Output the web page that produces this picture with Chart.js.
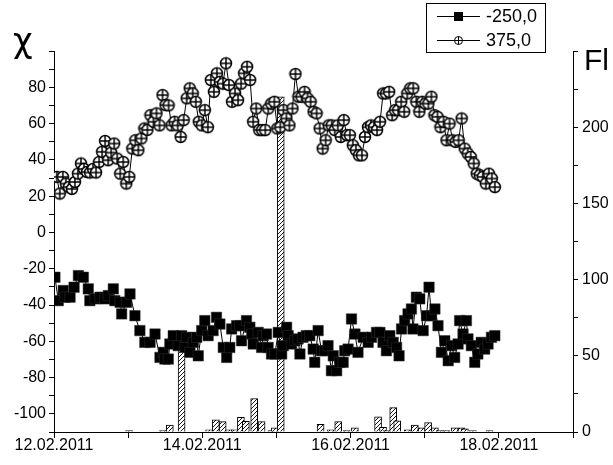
<!DOCTYPE html>
<html>
<head>
<meta charset="utf-8">
<script src="https://cdn.jsdelivr.net/npm/chart.js@4.4.1/dist/chart.umd.min.js"></script>
<style>
html, body { margin: 0; padding: 0; background: #fff; }
</style>
</head>
<body>
<canvas id="chart" width="613" height="465"></canvas>
<script>
// x is hours since 12.02.2011 00:00
const dayLabels = ['12.02.2011', '14.02.2011', '16.02.2011', '18.02.2011'];
const seriesNames = ['-250,0', '375,0'];

// series 375,0 - evenly spaced samples
const chi375Start = 0.9;
const chi375Step = 0.978;
const chi375 = [30.6, 21.4, 30.6, 26.9, 25, 24, 27.8, 32.4, 38, 35, 33.3, 33, 35, 33, 38.8, 44.4, 50.4, 39.8, 44, 49,
  40.7, 32.4, 38.8, 26.9, 30.6, 46.2, 50.8, 45.3, 51.8, 57.3, 56.5, 64.6, 61, 65.6, 59, 75.7, 70.2, 70, 59, 61,
  59, 52.6, 61.9, 73.9, 79.4, 76.6, 72, 61, 59, 67.4, 58, 84, 77.5, 87.7, 83, 82, 93.2, 81.2, 72, 76.6,
  72.9, 82, 87.7, 91.3, 84, 61, 68.3, 56.4, 56.4, 56.4, 68.3, 71, 72, 57.3, 58, 67.4, 62.8, 59, 68.3, 87.3,
  74.8, 74.8, 77.5, 73.9, 72, 66.5, 65.6, 57.3, 46.2, 50.8, 59, 59, 56.4, 59, 52.6, 61.9, 53.6, 53.6, 48, 45.3,
  42.5, 42.5, 52.6, 58, 59, 58, 56.4, 61, 76.6, 76.6, 77.5, 64.6, 67.4, 67.4, 72, 66.5, 76.6, 79.4, 79.4, 72,
  66.5, 72, 71, 71, 74.8, 64.6, 63.7, 58, 61, 50.8, 60, 50.8, 49.9, 50.8, 62.8, 46.2, 43.5, 41.6, 38, 32.4,
  31.5, 30.6, 26.9, 32.4, 29.7, 25];

// series -250,0
const chi250Hours = [0.3, 1.4, 3.0, 3.6, 5.2, 6.5, 7.9, 9.5, 11.1, 11.6, 13.3, 14.9, 16.5, 17.6, 19.2, 19.7, 21.4, 21.9, 23.5, 24.6,
  26.2, 27.8, 29.4, 31.1, 32.7, 34.3, 35.4, 35.9, 37.0, 37.5, 38.6, 40.2, 41.3, 42.4, 42.9, 44.0, 45.1, 46.2, 46.7, 47.8,
  48.8, 49.9, 51.5, 52.6, 53.7, 54.8, 55.9, 56.9, 57.5, 59.1, 60.2, 60.7, 62.3, 63.4, 64.0, 64.5, 66.1, 67.2, 67.7, 68.8,
  69.3, 70.4, 71.5, 72.6, 73.7, 74.2, 75.3, 75.8, 76.9, 78.0, 79.0, 79.6, 80.6, 81.7, 82.8, 83.9, 84.4, 85.5, 86.6, 87.7,
  88.7, 89.8, 90.4, 91.5, 92.5, 93.6, 94.1, 95.2, 96.3, 97.4, 98.4, 100.1, 101.7, 102.8, 104.4, 105.5, 106.5, 107.6, 108.7, 109.8,
  110.9, 111.7, 112.5, 113.5, 114.6, 115.7, 116.2, 117.3, 118.4, 119.5, 120.6, 121.4, 122.2, 123.3, 124.3, 125.4, 126.5, 127.6, 128.7, 129.7,
  130.8, 131.3, 132.4, 133.5, 134.0, 135.1, 136.2, 137.2, 138.3, 139.4, 140.5, 141.6, 142.7];
const chi250 = [-24.7, -37.6, -32, -35.7, -35.7, -30.2, -23.8, -24.7, -31.1, -37.6, -36.6, -35.7, -36.6, -34.8, -31.1, -37.6, -38.5, -44.9, -38.5, -33.9,
  -45.9, -54.1, -60.6, -60.6, -56, -68.9, -66.1, -69.8, -69.8, -61.5, -56.9, -62.4, -56.9, -63.4, -57.8, -66.1, -60.6, -57.8, -68, -54.1,
  -48.6, -56.9, -54.1, -46.8, -50.5, -63.4, -68.9, -63.4, -53.2, -51.4, -51.4, -59.7, -48.6, -52.3, -56, -61.5, -55.1, -63.4, -56.9, -56,
  -63.4, -67, -67, -55.1, -67, -62.4, -52.3, -56.9, -61.5, -59.7, -58.7, -67, -57.8, -56.9, -56.9, -64.3, -71.6, -54.1, -65.2, -65.2,
  -62.4, -76.2, -68, -76.2, -71.6, -71.6, -65.2, -64.3, -47.7, -56, -66.1, -57.8, -60.6, -57.8, -55.1, -55.1, -60.6, -65.2, -56.9, -60.6,
  -63.4, -68, -53.2, -48.6, -44.9, -42.2, -53.2, -35.7, -36.6, -54.1, -45.9, -30.2, -45.9, -42.2, -51.4, -66.1, -59.7, -70.7, -62.4, -68.9,
  -61.5, -48.6, -56, -48.6, -58.7, -62.4, -71.6, -67, -60.6, -64.3, -61.5, -57.8, -56.9];

// Fl bars (right axis)
const flHours = [24.3, 35.3, 37.5, 41.3, 50.2, 52.4, 54.6, 56.7, 58.5, 60.5, 62.1, 64.8, 67.2, 70.4, 71.5, 73.4, 86.3, 89.5, 92, 94.7,
  97.4, 104.9, 106.5, 107.6, 109.8, 111.1, 114.5, 116.8, 119, 121.1, 123.3, 124.9, 127, 129.7, 131.9, 133, 135.6, 141];
const flValues = [1, 1, 4.5, 62, 1.5, 8, 6.8, 1.5, 1.5, 9.6, 7, 22, 6.8, 1, 2.8, 220, 5, 1.5, 6.8, 1,
  2.7, 10, 3, 1, 16, 7.4, 1.5, 4.6, 2.7, 6.1, 2.7, 1, 1, 2.7, 2.7, 2, 1, 1];

const canvas = document.getElementById('chart');
const ctx = canvas.getContext('2d');

function makeHatch() {
  const c = document.createElement('canvas');
  c.width = 4; c.height = 4;
  const g = c.getContext('2d');
  g.fillStyle = '#fff';
  g.fillRect(0, 0, 4, 4);
  g.strokeStyle = '#000';
  g.lineWidth = 0.9;
  g.beginPath();
  g.moveTo(-1, 5); g.lineTo(5, -1);
  g.moveTo(-1, 1); g.lineTo(1, -1);
  g.moveTo(3, 5); g.lineTo(5, 3);
  g.stroke();
  return ctx.createPattern(c, 'repeat');
}

function makeCircleMarker(r, lw) {
  const s = 2 * r + 3;
  const c = document.createElement('canvas');
  c.width = s; c.height = s;
  const g = c.getContext('2d');
  const m = s / 2;
  g.beginPath();
  g.arc(m, m, r, 0, Math.PI * 2);
  g.fillStyle = '#fff';
  g.fill();
  g.lineWidth = lw;
  g.strokeStyle = '#000';
  g.stroke();
  g.beginPath();
  g.moveTo(m - r, m); g.lineTo(m + r, m);
  g.moveTo(m, m - r); g.lineTo(m, m + r);
  g.stroke();
  return c;
}

const circleMarker = makeCircleMarker(5.5, 1.5);
const smallCircle = makeCircleMarker(4, 1);

const pts375 = chi375.map((v, i) => ({ x: chi375Start + i * chi375Step, y: v }));
const pts250 = chi250.map((v, i) => ({ x: chi250Hours[i], y: v }));
const ptsFl = flValues.map((v, i) => ({ x: flHours[i], y: v }));

const FONT = '"Liberation Sans", Arial, sans-serif';

const extras = {
  id: 'extras',
  afterDraw(chart) {
    const c = chart.ctx;
    c.save();
    c.fillStyle = '#000';
    c.textBaseline = 'alphabetic';
    c.font = '34px "DejaVu Sans", sans-serif';
    c.fillText('\u03C7', 13, 52);
    c.font = '30px ' + FONT;
    c.fillText('Fl', 584, 70);

    // legend box
    c.strokeStyle = '#000';
    c.lineWidth = 1;
    c.strokeRect(426.5, 3.5, 119, 49);
    c.beginPath();
    c.moveTo(437, 16.5); c.lineTo(480, 16.5);
    c.moveTo(437, 40.5); c.lineTo(480, 40.5);
    c.stroke();
    c.fillRect(454, 12, 9, 9);
    c.drawImage(smallCircle, 458.5 - smallCircle.width / 2, 40.5 - smallCircle.height / 2);
    c.font = '18px ' + FONT;
    c.textBaseline = 'middle';
    c.fillText(seriesNames[0], 486, 17);
    c.fillText(seriesNames[1], 486, 41);
    c.restore();
  }
};

const tickFont = { family: FONT, size: 16 };

new Chart(ctx, {
  type: 'line',
  data: {
    datasets: [
      {
        type: 'bar',
        label: 'Fl',
        data: ptsFl,
        yAxisID: 'yR',
        backgroundColor: makeHatch(),
        borderColor: '#000',
        borderWidth: 1,
        barThickness: 7,
        order: 3
      },
      {
        label: seriesNames[0],
        data: pts250,
        yAxisID: 'y',
        borderColor: '#000',
        borderWidth: 1,
        pointStyle: 'rect',
        pointRadius: 7.4,
        pointBackgroundColor: '#000',
        pointBorderColor: '#333',
        pointBorderWidth: 0.5,
        tension: 0,
        order: 1
      },
      {
        label: seriesNames[1],
        data: pts375,
        yAxisID: 'y',
        borderColor: '#000',
        borderWidth: 1,
        pointStyle: circleMarker,
        tension: 0,
        order: 0
      }
    ]
  },
  options: {
    responsive: false,
    animation: false,
    layout: { padding: { top: 51, left: 0, right: 0, bottom: 0 } },
    plugins: { legend: { display: false }, tooltip: { enabled: false } },
    scales: {
      x: {
        type: 'linear',
        min: 0,
        max: 168,
        offset: false,
        ticks: {
          stepSize: 24,
          autoSkip: false,
          maxRotation: 0,
          color: '#000',
          font: tickFont,
          padding: -2,
          callback: (v) => (v % 48 === 0 && v < 168) ? dayLabels[v / 48] : ''
        },
        grid: { drawOnChartArea: false, color: '#000', tickLength: 6, offset: false },
        border: { color: '#000', width: 1 },
        afterFit: (s) => { s.height = 33; }
      },
      y: {
        position: 'left',
        min: -110,
        max: 100,
        ticks: {
          stepSize: 10,
          autoSkip: false,
          color: '#000',
          font: tickFont,
          padding: 3,
          callback: (v) => (v % 20 === 0 && v > -110 && v < 100) ? v : ''
        },
        grid: { drawOnChartArea: false, color: '#000', tickLength: 5 },
        border: { color: '#000', width: 1 },
        afterFit: (s) => { s.width = 54; }
      },
      yR: {
        position: 'right',
        min: 0,
        max: 250,
        ticks: {
          stepSize: 25,
          autoSkip: false,
          color: '#000',
          font: tickFont,
          padding: 4,
          callback: (v) => (v % 50 === 0 && v < 250) ? v : ''
        },
        grid: { drawOnChartArea: false, color: '#000', tickLength: 5 },
        border: { color: '#000', width: 1 },
        afterFit: (s) => { s.width = 40; }
      }
    }
  },
  plugins: [extras]
});
</script>
</body>
</html>
